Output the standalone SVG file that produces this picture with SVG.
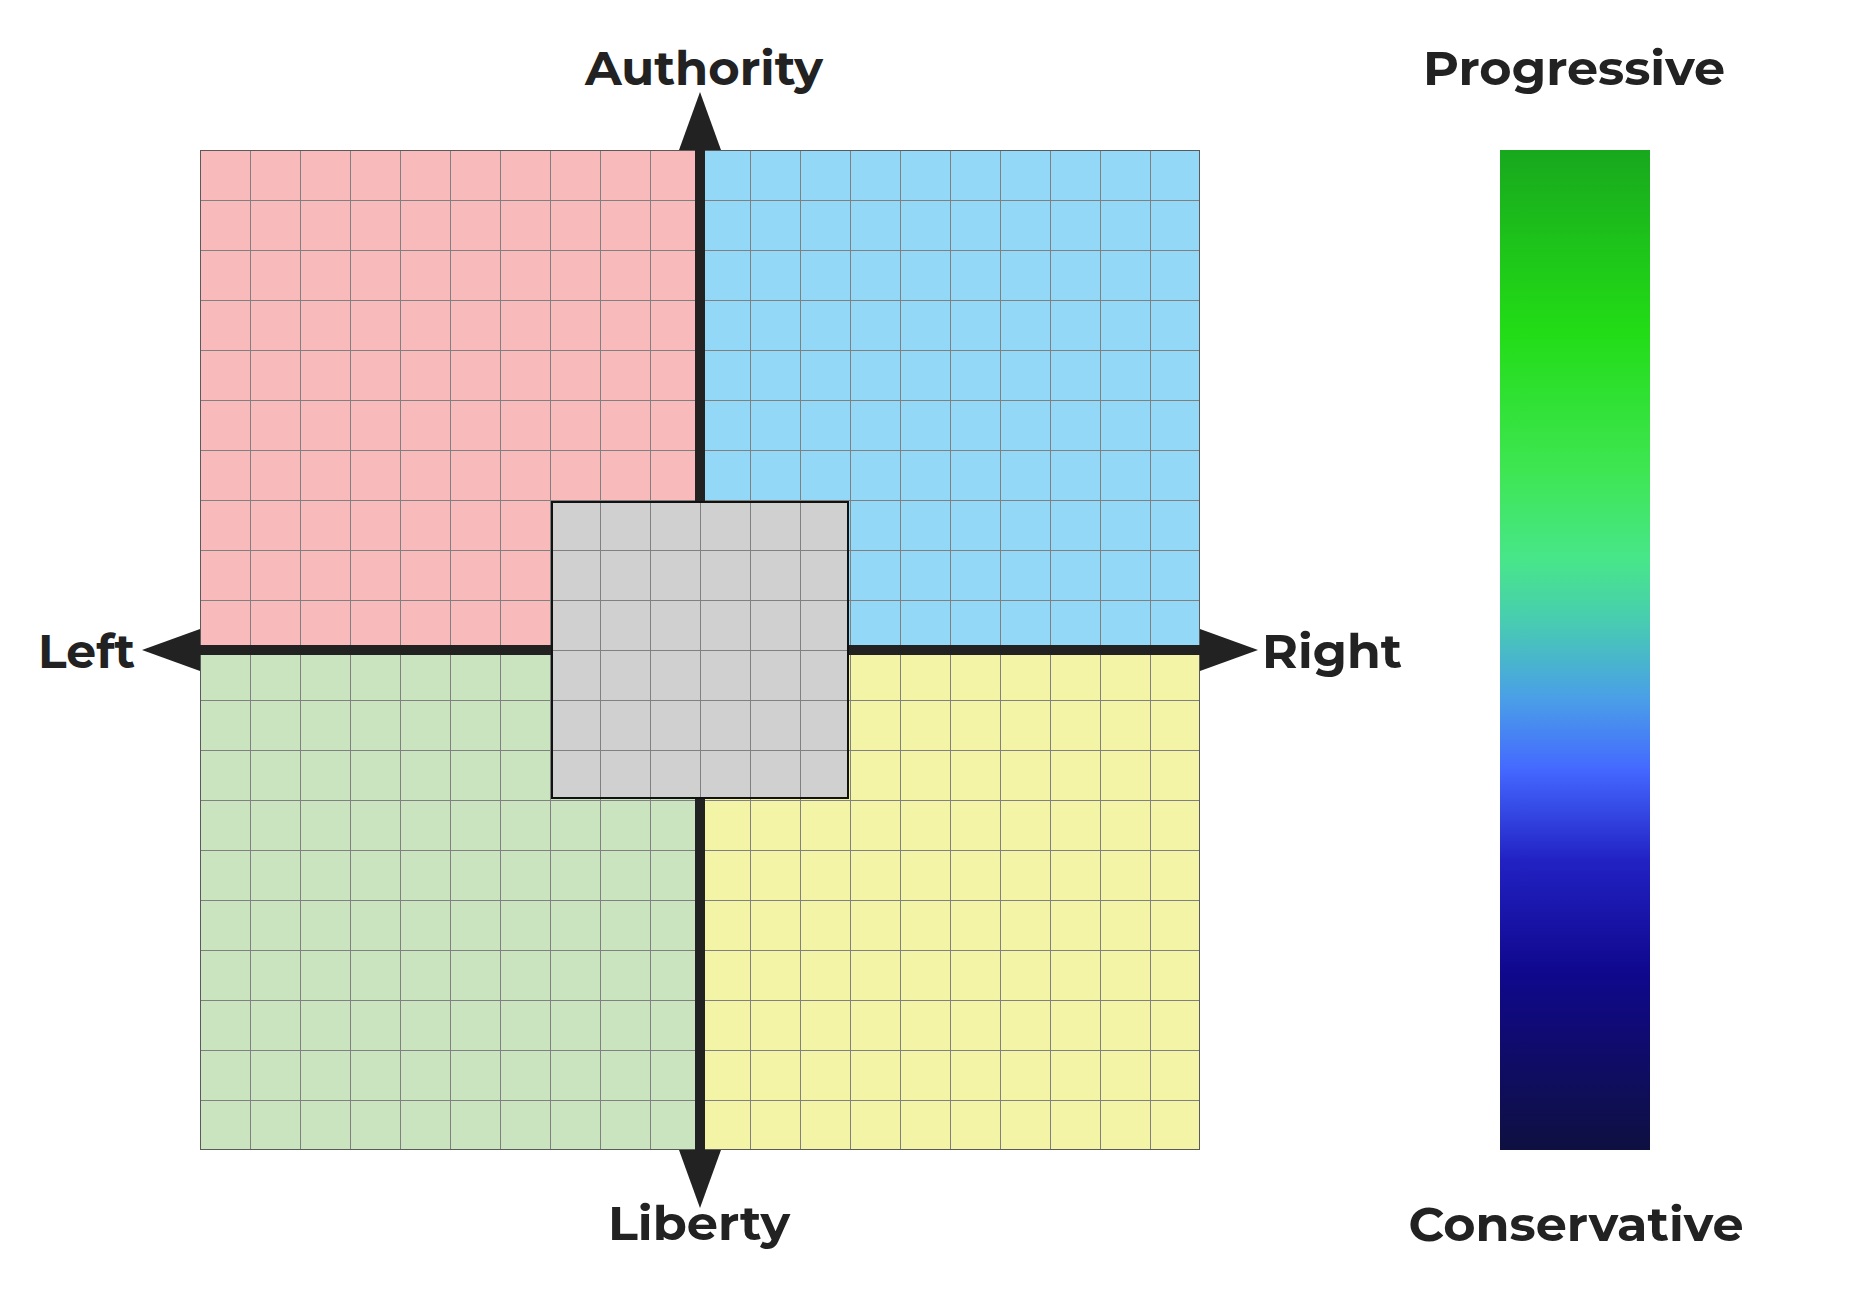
<svg xmlns="http://www.w3.org/2000/svg" width="1850" height="1300" viewBox="0 0 1850 1300">
  <defs>
    <linearGradient id="scale" x1="0" y1="0" x2="0" y2="1">
      <stop offset="0" stop-color="#18A81E"/>
      <stop offset="0.18" stop-color="#22DC16"/>
      <stop offset="0.32" stop-color="#3EE652"/>
      <stop offset="0.41" stop-color="#48E68A"/>
      <stop offset="0.47" stop-color="#48CDB0"/>
      <stop offset="0.55" stop-color="#4A9EE8"/>
      <stop offset="0.62" stop-color="#4468FF"/>
      <stop offset="0.71" stop-color="#2222C4"/>
      <stop offset="0.82" stop-color="#10088E"/>
      <stop offset="1" stop-color="#0E1040"/>
    </linearGradient>
    <style>
      .lbl { font-family: "Montserrat", "Noto Sans", "Liberation Sans", sans-serif; font-weight: 700; font-size: 48px; fill: #222222; }
      .grid { fill: none; stroke: #808080; stroke-width: 1; }
      .axis { stroke: #222222; stroke-width: 10; fill: none; }
      .head { fill: #222222; }
    </style>
  </defs>
  <rect width="1850" height="1300" fill="#ffffff"/>

  <g id="quadrants">
    <rect id="auth-left" x="200" y="150" width="500" height="500" fill="#F8BABA"/>
    <rect id="auth-right" x="700" y="150" width="500" height="500" fill="#93D8F6"/>
    <rect id="lib-left" x="200" y="650" width="500" height="500" fill="#C9E4BE"/>
    <rect id="lib-right" x="700" y="650" width="500" height="500" fill="#F4F4A6"/>
  </g>

  <g id="grid">
    <path class="grid" d="M250.5 150V1150M300.5 150V1150M350.5 150V1150M400.5 150V1150M450.5 150V1150M500.5 150V1150M550.5 150V1150M600.5 150V1150M650.5 150V1150M700.5 150V1150M750.5 150V1150M800.5 150V1150M850.5 150V1150M900.5 150V1150M950.5 150V1150M1000.5 150V1150M1050.5 150V1150M1100.5 150V1150M1150.5 150V1150
M200 200.5H1200M200 250.5H1200M200 300.5H1200M200 350.5H1200M200 400.5H1200M200 450.5H1200M200 500.5H1200M200 550.5H1200M200 600.5H1200M200 650.5H1200M200 700.5H1200M200 750.5H1200M200 800.5H1200M200 850.5H1200M200 900.5H1200M200 950.5H1200M200 1000.5H1200M200 1050.5H1200M200 1100.5H1200"/>
    <rect x="200.5" y="150.5" width="999" height="999" fill="none" stroke="#5a5a5a" stroke-width="1"/>
  </g>

  <g id="connectors">
    <path class="axis" d="M700 150V1150"/>
    <path class="axis" d="M200 650H1200"/>
    <polygon class="head" points="700,92 679,150 721,150"/>
    <polygon class="head" points="700,1208 679,1150 721,1150"/>
    <polygon class="head" points="142,650 200,629 200,671"/>
    <polygon class="head" points="1258,650 1200,629 1200,671"/>
  </g>

  <g id="center-box">
    <rect x="552" y="502" width="296" height="296" fill="#D0D0D0"/>
    <path class="grid" d="M600.5 502V798M650.5 502V798M700.5 502V798M750.5 502V798M800.5 502V798M552 550.5H848M552 600.5H848M552 650.5H848M552 700.5H848M552 750.5H848"/>
    <rect x="552" y="502" width="296" height="296" fill="none" stroke="#111111" stroke-width="2"/>
  </g>

  <g id="scale-bar">
    <rect x="1500" y="150" width="150" height="1000" fill="url(#scale)"/>
  </g>

  <g id="labels">
    <text id="authority" class="lbl" x="704" y="85" text-anchor="middle" textLength="238" lengthAdjust="spacingAndGlyphs">Authority</text>
    <text id="liberty" class="lbl" x="699" y="1240" text-anchor="middle" textLength="182" lengthAdjust="spacingAndGlyphs">Liberty</text>
    <text id="left" class="lbl" x="38" y="668" textLength="97" lengthAdjust="spacingAndGlyphs">Left</text>
    <text id="right" class="lbl" x="1262" y="668" textLength="140" lengthAdjust="spacingAndGlyphs">Right</text>
    <text id="progressive" class="lbl" x="1574" y="85" text-anchor="middle" textLength="302" lengthAdjust="spacingAndGlyphs">Progressive</text>
    <text id="conservative" class="lbl" x="1576" y="1241" text-anchor="middle" textLength="335" lengthAdjust="spacingAndGlyphs">Conservative</text>
  </g>
</svg>
